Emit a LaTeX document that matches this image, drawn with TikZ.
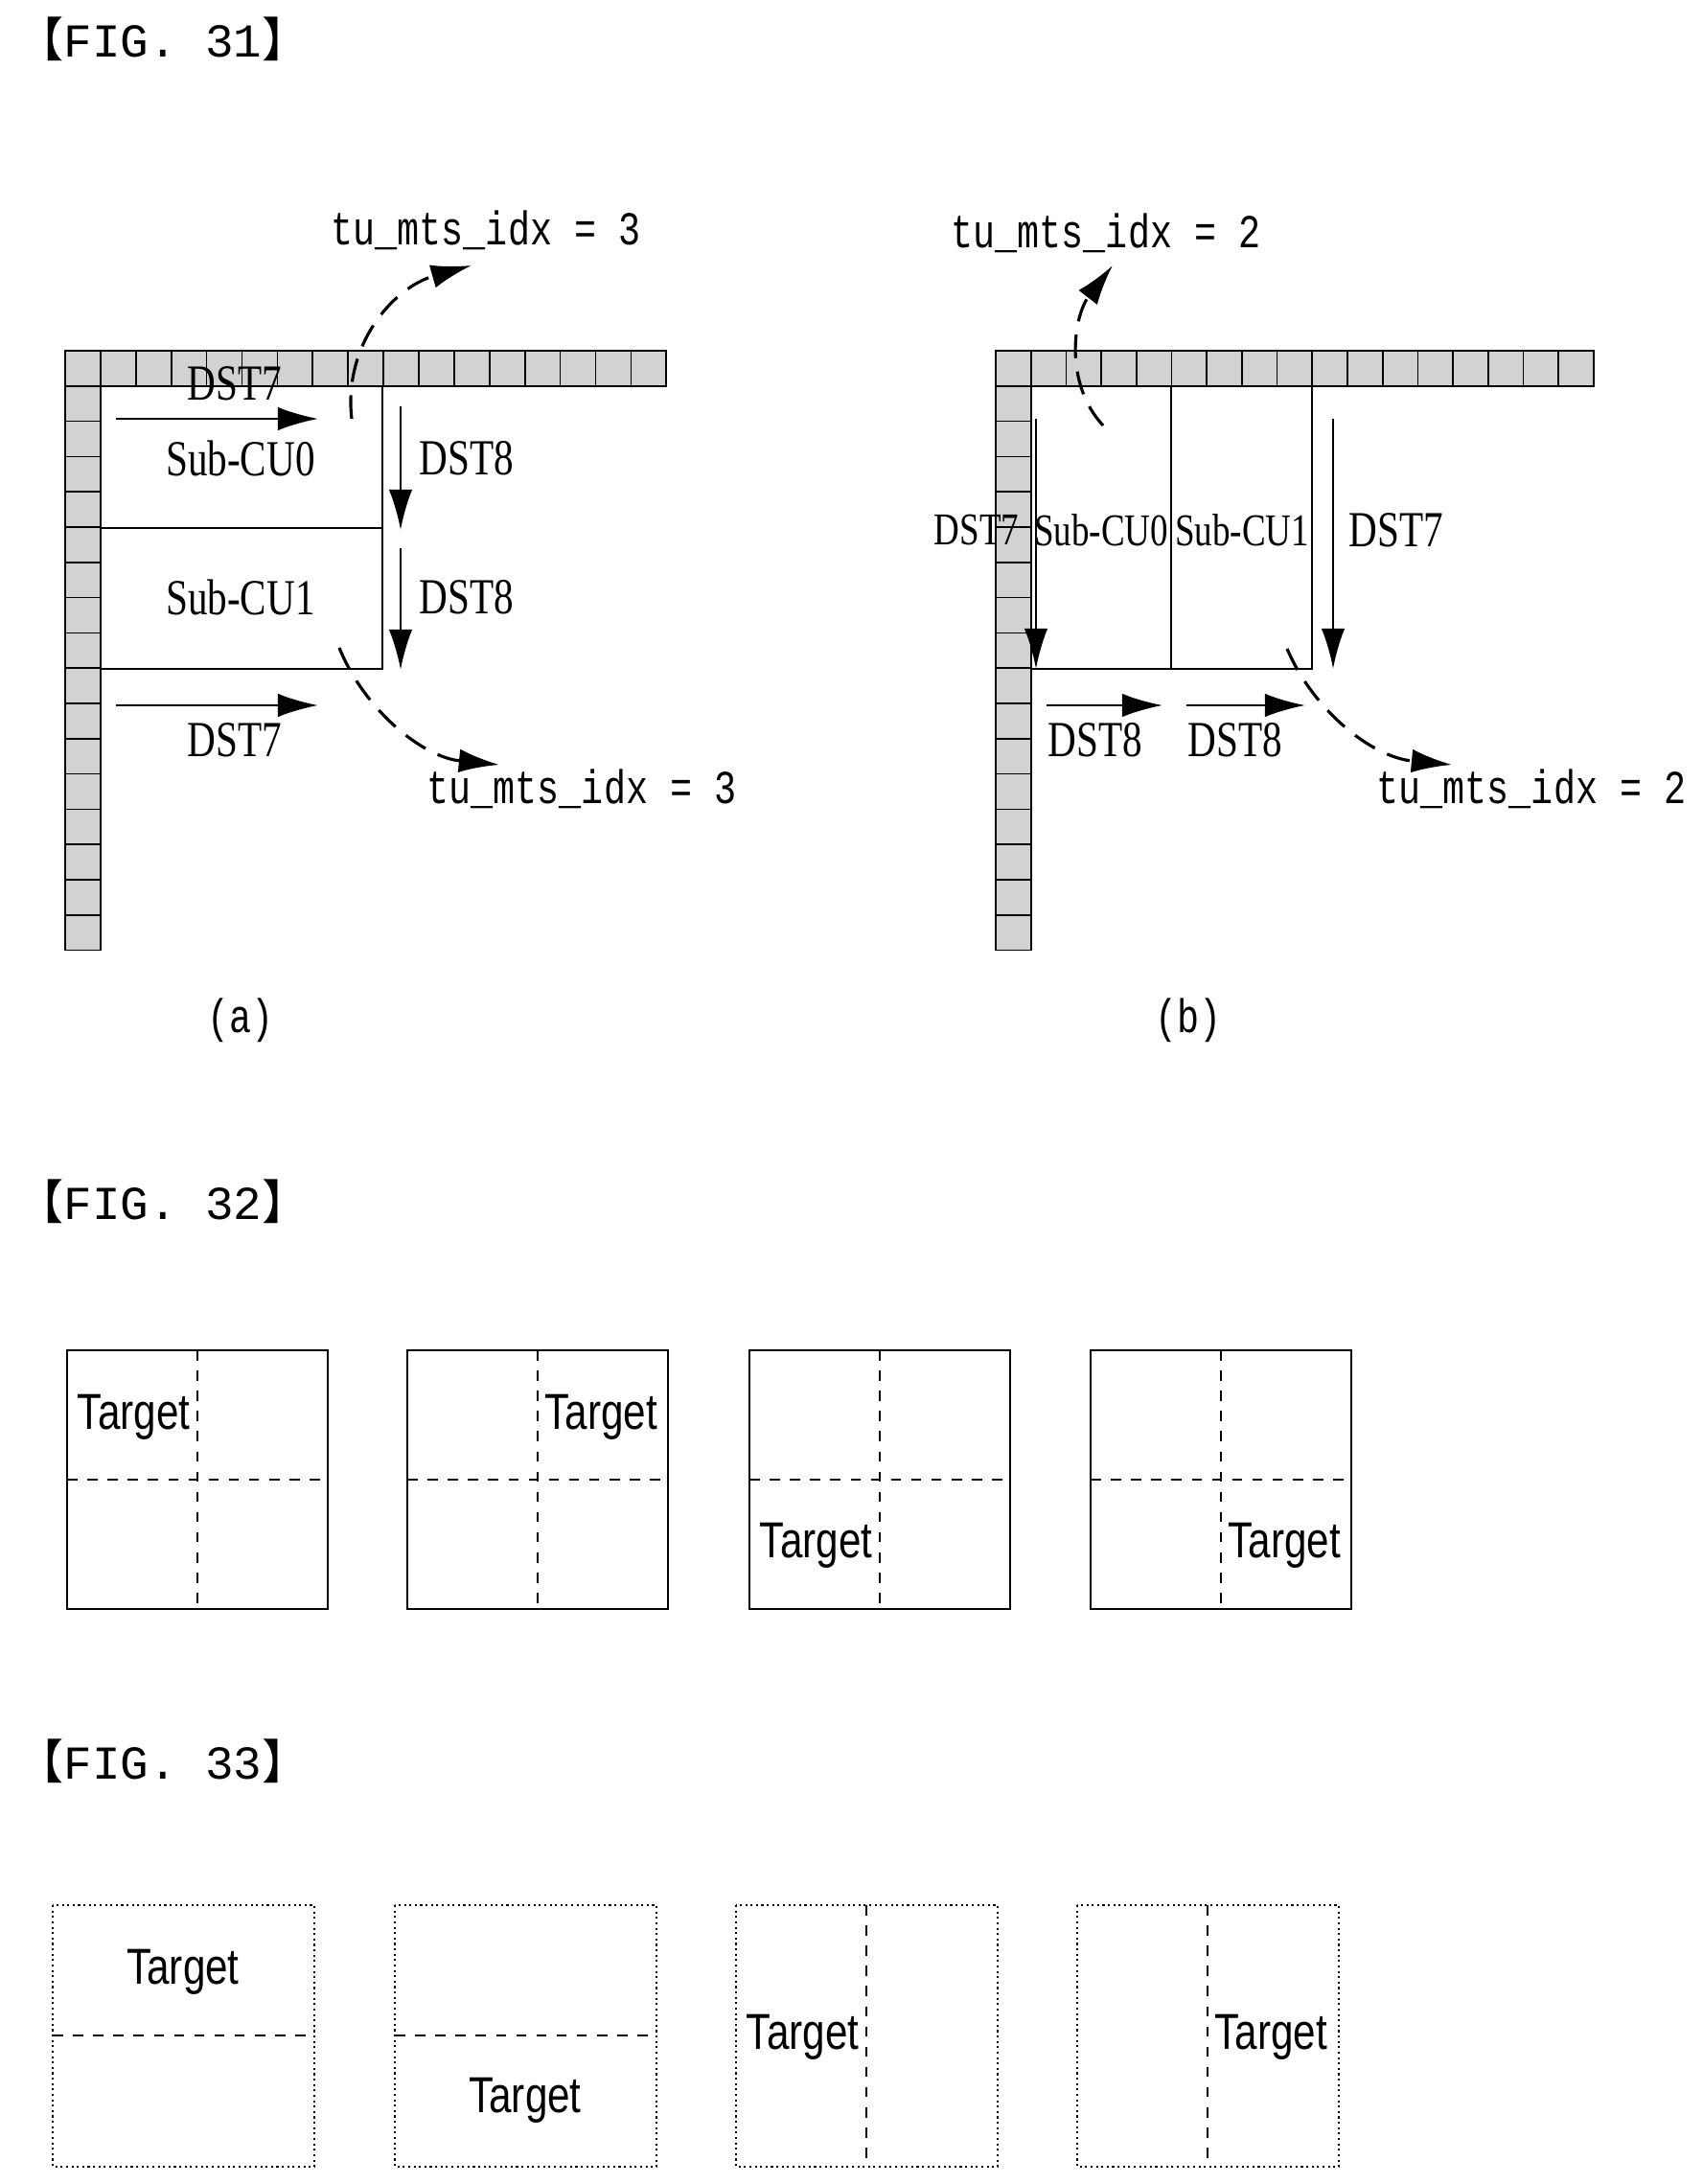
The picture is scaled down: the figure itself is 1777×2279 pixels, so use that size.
\documentclass[tikz,border=0pt]{standalone}
\usepackage{fontspec}
\setmainfont{Liberation Serif}
\setmonofont{Liberation Mono}
\newfontfamily\cjk{Noto Sans CJK SC}
\newfontfamily\narrowserif[FakeStretch=0.78]{Liberation Serif}
\newfontfamily\narrowmono[FakeStretch=0.78]{Liberation Mono}
\newfontfamily\narrowsans[FakeStretch=0.8]{Liberation Sans}
\usetikzlibrary{arrows.meta}
\begin{document}
\begin{tikzpicture}[x=0.01cm,y=-0.01cm,
    cell/.style={draw,fill=gray!35,line width=0.5pt},
    lbl/.style={font=\narrowserif\fontsize{15}{17}\selectfont,inner sep=1pt},
    slbl/.style={font=\narrowserif\fontsize{13.5}{17}\selectfont,inner sep=1pt},
    idx/.style={font=\narrowmono\fontsize{14}{17}\selectfont},
    tgt/.style={font=\narrowsans\fontsize{15}{18}\selectfont,inner sep=2pt},
    fig/.style={font=\ttfamily\fontsize{14}{17}\selectfont,anchor=west},
    arr/.style={-{Latex[length=12pt,width=7pt]},line width=0.8pt},
    darr/.style={-{Latex[length=12pt,width=7pt]},line width=0.9pt,dash pattern=on 7pt off 4pt},
    quad/.style={draw,line width=0.6pt},
    split/.style={dashed,line width=0.5pt}]
  \useasboundingbox (0,0) rectangle (1777,2279);
  % titles
  \node[fig] (f31) at (5,41) {{\cjk 【}FIG. 31{\cjk 】}};
  \node[fig] (f32) at (5,1254) {{\cjk 【}FIG. 32{\cjk 】}};
  \node[fig] (f33) at (5,1838) {{\cjk 【}FIG. 33{\cjk 】}};

  % FIG. 31 (a)
  \foreach \i in {0,...,16} {
    \draw[cell] (68+\i*36.9,366) rectangle ++(36.9,37);
    \draw[cell] (68,366+\i*36.8) rectangle ++(37,36.8);
  }
  \draw[line width=0.8pt] (105,403) rectangle (399,698);
  \draw[line width=0.6pt] (105,551) -- (399,551);
  \node[lbl] (a0) at (251,478) {Sub-CU0};
  \node[lbl] (a1) at (251,623) {Sub-CU1};
  \coordinate (at1) at (121,437); \coordinate (at2) at (332,437);
  \draw[arr] (at1) -- (at2);
  \node[lbl] (at) at (245,400) {DST7};
  \coordinate (ab1) at (121,736); \coordinate (ab2) at (332,736);
  \draw[arr] (ab1) -- (ab2);
  \node[lbl] (ab) at (245,772) {DST7};
  \coordinate (ar1) at (418,424); \coordinate (ar2) at (418,553);
  \coordinate (ar3) at (418,572); \coordinate (ar4) at (418,699);
  \draw[arr] (ar1) -- (ar2);
  \draw[arr] (ar3) -- (ar4);
  \node[lbl] (ar) at (487,478) {DST8};
  \node[lbl] (ars) at (487,623) {DST8};
  \coordinate (ac1) at (367,437); \coordinate (ac2) at (492,277);
  \draw[darr] (ac1) .. controls (358,360) and (410,300) .. (ac2);
  \node[idx] (ai1) at (507,240) {tu\_mts\_idx = 3};
  \coordinate (ad1) at (354,676); \coordinate (ad2) at (521,798);
  \draw[darr] (ad1) .. controls (380,740) and (440,790) .. (ad2);
  \node[idx] (ai2) at (607,823) {tu\_mts\_idx = 3};
  \node[idx] (ca) at (251,1065) {(a)};

  % FIG. 31 (b)
  \foreach \i in {0,...,16} {
    \draw[cell] (1039+\i*36.7,366) rectangle ++(36.7,37);
    \draw[cell] (1039,366+\i*36.8) rectangle ++(37,36.8);
  }
  \draw[line width=0.8pt] (1076,403) rectangle (1369,698);
  \draw[line width=0.6pt] (1222,403) -- (1222,698);
  \node[slbl] (b0) at (1149,553) {Sub-CU0};
  \node[slbl] (b1) at (1296,553) {Sub-CU1};
  \coordinate (bl1) at (1081,437); \coordinate (bl2) at (1081,698);
  \draw[arr] (bl1) -- (bl2);
  \node[slbl] (bl) at (1019,553) {DST7};
  \coordinate (br1) at (1391,437); \coordinate (br2) at (1391,698);
  \draw[arr] (br1) -- (br2);
  \node[lbl] (br) at (1457,553) {DST7};
  \coordinate (bb1) at (1092,736); \coordinate (bb2) at (1213,736);
  \coordinate (bb3) at (1238,736); \coordinate (bb4) at (1362,736);
  \draw[arr] (bb1) -- (bb2);
  \draw[arr] (bb3) -- (bb4);
  \node[lbl] (bb) at (1143,772) {DST8};
  \node[lbl] (bbs) at (1289,772) {DST8};
  \coordinate (bc1) at (1151,444); \coordinate (bc2) at (1161,277);
  \draw[darr] (bc1) .. controls (1110,400) and (1120,330) .. (bc2);
  \node[idx] (bi1) at (1154,243) {tu\_mts\_idx = 2};
  \coordinate (bd1) at (1343,677); \coordinate (bd2) at (1515,798);
  \draw[darr] (bd1) .. controls (1370,740) and (1430,790) .. (bd2);
  \node[idx] (bi2) at (1598,823) {tu\_mts\_idx = 2};
  \node[idx] (cb) at (1240,1065) {(b)};

  % FIG. 32
  \foreach \x/\n in {70/1,425/2,782/3,1138/4} {
    \draw[quad] (\x,1409) rectangle ++(272,270);
    \draw[split] (\x+136,1409) -- ++(0,270);
    \draw[split] (\x,1544) -- ++(272,0);
  }
  \node[tgt,anchor=east] (t1) at (206,1479) {Target};
  \node[tgt,anchor=west] (t2) at (561,1479) {Target};
  \node[tgt,anchor=east] (t3) at (918,1613) {Target};
  \node[tgt,anchor=west] (t4) at (1274,1613) {Target};

  % FIG. 33
  \foreach \x/\n in {55/1,412/2,768/3,1124/4} {
    \draw[quad,densely dotted] (\x,1988) rectangle ++(273,273);
  }
  \draw[split] (55,2124) -- ++(273,0);
  \draw[split] (412,2124) -- ++(273,0);
  \draw[split] (904,1988) -- ++(0,273);
  \draw[split] (1260,1988) -- ++(0,273);
  \node[tgt] (u1) at (191,2058) {Target};
  \node[tgt] (u2) at (548,2192) {Target};
  \node[tgt,anchor=east] (u3) at (904,2126) {Target};
  \node[tgt,anchor=west] (u4) at (1260,2126) {Target};
\end{tikzpicture}
\end{document}
